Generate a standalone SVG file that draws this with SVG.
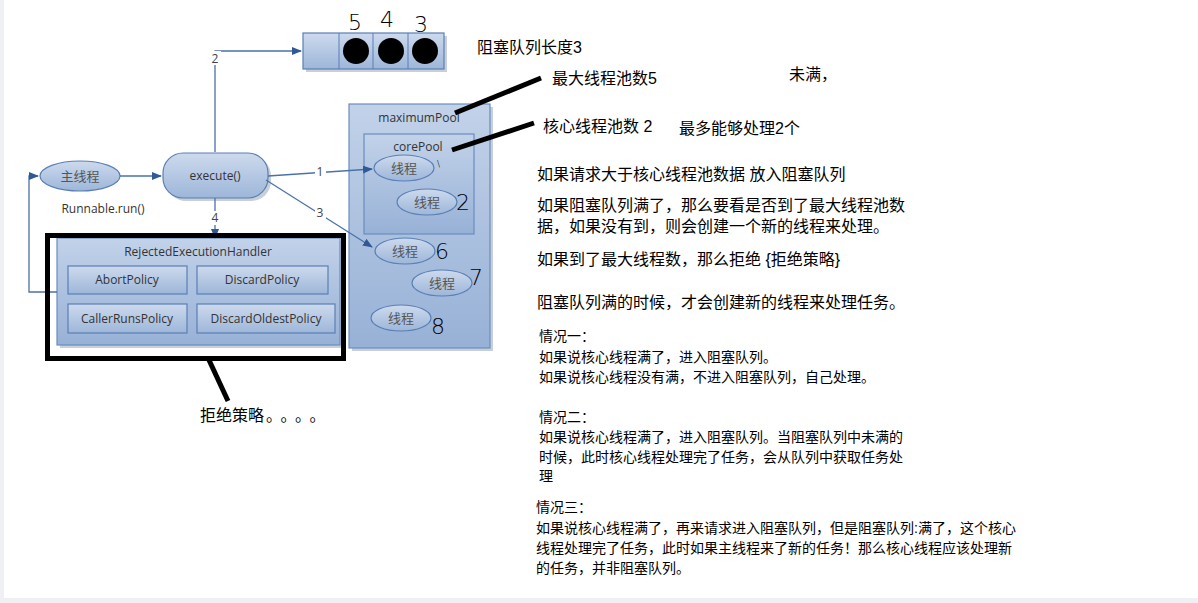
<svg xmlns="http://www.w3.org/2000/svg" width="1198" height="603" viewBox="0 0 1198 603">
<defs>
<linearGradient id="g" x1="0" y1="0" x2="0" y2="1"><stop offset="0" stop-color="#cddaed"/><stop offset="1" stop-color="#9db6d9"/></linearGradient>
<linearGradient id="g2" x1="0" y1="0" x2="0" y2="1"><stop offset="0" stop-color="#c2d2e9"/><stop offset="1" stop-color="#97b1d6"/></linearGradient>
<marker id="ah" markerWidth="10" markerHeight="8" refX="9" refY="4" orient="auto" markerUnits="userSpaceOnUse"><path d="M0,0 L10,4 L0,8 Z" fill="#2f5a95"/></marker>
<style>
.sh{fill:url(#g);stroke:#5a7fb5;stroke-width:1.2}
.bg{fill:url(#g2);stroke:#6a8cbe;stroke-width:1.2}
.t{font-family:"Open Sans","Liberation Sans",sans-serif;font-size:12px;fill:#333;text-anchor:middle}
.c{font-family:"Noto Sans CJK SC",sans-serif;font-size:13px;fill:#555;text-anchor:middle}
.cn{font-family:"Liberation Sans","Noto Sans CJK SC",sans-serif;font-size:16px;fill:#000}
.sm{font-family:"Liberation Sans","Noto Sans CJK SC",sans-serif;font-size:14px;fill:#000}
.hw{font-family:"DejaVu Sans",sans-serif;font-size:22px;fill:#000;font-weight:200}
.ln{fill:none;stroke:#4a72a8;stroke-width:1.3}
.lbl{font-family:"Open Sans","Liberation Sans",sans-serif;font-size:12px;fill:#444;text-anchor:middle}
.blk{fill:none;stroke:#000;stroke-width:5}
</style>
</defs>
<rect width="1198" height="603" fill="#eef0f4"/>
<rect x="4" y="0" width="1194" height="598" fill="#fff"/>

<g id="queue">
<rect x="306" y="36" width="141" height="36" fill="#c9cfd8"/>
<rect class="sh" x="303" y="33" width="141" height="36"/>
<line x1="339" y1="33" x2="339" y2="69" stroke="#5a7fb5"/>
<line x1="373" y1="33" x2="373" y2="69" stroke="#5a7fb5"/>
<line x1="408" y1="33" x2="408" y2="69" stroke="#5a7fb5"/>
<circle cx="356" cy="51" r="13" fill="#000"/>
<circle cx="391" cy="51" r="13" fill="#000"/>
<circle cx="425" cy="51" r="13" fill="#000"/>
<text class="hw" x="348" y="30">5</text>
<text class="hw" x="380" y="27">4</text>
<text class="hw" x="414" y="32">3</text>
</g>

<g id="main">
<ellipse class="sh" cx="80" cy="176" rx="40" ry="15"/>
<text class="c" x="80" y="181">主线程</text>
<text class="t" x="103" y="213">Runnable.run()</text>
</g>

<g id="execute">
<rect x="166" y="156" width="105" height="45" rx="20" fill="#c9cfd8"/>
<rect class="sh" x="163" y="153" width="105" height="45" rx="20"/>
<text class="t" x="215" y="180">execute()</text>
</g>

<g id="maximumPool">
<rect x="352" y="107" width="141" height="244" fill="#c9cfd8"/>
<rect class="bg" x="349" y="104" width="141" height="244"/>
<text class="t" x="419" y="122">maximumPool</text>
</g>
<g id="corePool">
<rect class="bg" x="364" y="134" width="110" height="100"/>
<text class="t" x="418" y="151">corePool</text>
</g>
<g id="t1"><ellipse class="sh" cx="404" cy="168" rx="30" ry="13"/><text class="c" x="404" y="173">线程</text><text class="hw" x="437" y="167" style="font-size:9px">\</text></g>
<g id="t2"><ellipse class="sh" cx="427" cy="202" rx="30" ry="13"/><text class="c" x="427" y="207">线程</text><text class="hw" x="456" y="210">2</text></g>
<g id="t6"><ellipse class="sh" cx="405" cy="251" rx="30" ry="13"/><text class="c" x="405" y="256">线程</text><text class="hw" x="435" y="259">6</text></g>
<g id="t7"><ellipse class="sh" cx="442" cy="283" rx="30" ry="13"/><text class="c" x="442" y="288">线程</text><text class="hw" x="469" y="285">7</text></g>
<g id="t8"><ellipse class="sh" cx="401" cy="318" rx="30" ry="13"/><text class="c" x="401" y="323">线程</text><text class="hw" x="431" y="334">8</text></g>

<g id="handler">
<rect x="60" y="241" width="283" height="107" fill="#c9cfd8"/>
<rect class="bg" x="57" y="238" width="283" height="107"/>
<text class="t" x="198" y="256">RejectedExecutionHandler</text>
<rect class="sh" x="68" y="266" width="119" height="28"/>
<text class="t" x="127" y="284">AbortPolicy</text>
<rect class="sh" x="197" y="266" width="131" height="28"/>
<text class="t" x="262" y="284">DiscardPolicy</text>
<rect class="sh" x="68" y="304" width="119" height="29"/>
<text class="t" x="127" y="323">CallerRunsPolicy</text>
<rect class="sh" x="197" y="304" width="138" height="29"/>
<text class="t" x="266" y="323">DiscardOldestPolicy</text>
</g>

<g id="connectors">
<path class="ln" d="M120,176 L161,176" marker-end="url(#ah)"/>
<path class="ln" d="M215,152 L215,51 L301,51" marker-end="url(#ah)"/>
<rect x="209" y="51" width="12" height="14" fill="#fff"/>
<text class="lbl" x="215" y="63">2</text>
<path class="ln" d="M268,176 L372,169" marker-end="url(#ah)"/>
<rect x="315" y="165" width="11" height="13" fill="#fff"/>
<text class="lbl" x="320" y="176">1</text>
<path class="ln" d="M266,180 L372,247" marker-end="url(#ah)"/>
<rect x="315" y="206" width="11" height="13" fill="#fff"/>
<text class="lbl" x="320" y="217">3</text>
<path class="ln" d="M215,198 L215,238" marker-end="url(#ah)"/>
<rect x="209" y="211" width="12" height="14" fill="#fff"/>
<text class="lbl" x="215" y="222">4</text>
<path class="ln" d="M57,292 L29,292 L29,176 L38,176" marker-end="url(#ah)"/>
</g>

<g id="annotations">
<rect class="blk" x="47.5" y="235.5" width="296" height="123"/>
<line class="blk" x1="209" y1="360" x2="228" y2="401"/>
<line class="blk" x1="455" y1="113" x2="541" y2="78"/>
<line class="blk" x1="452" y1="150" x2="534" y2="123"/>
<text class="cn" x="200" y="421">拒绝策略<tspan dx="2" style="letter-spacing:6.5px">。。。。</tspan></text>
<text class="cn" x="477" y="53">阻塞队列长度3</text>
<text class="cn" x="552" y="84">最大线程池数5</text>
<text class="cn" x="789" y="80">未满，</text>
<text class="cn" x="543" y="132">核心线程池数  2</text>
<text class="cn" x="679" y="134">最多能够处理2个</text>
<text class="cn" x="537" y="180">如果请求大于核心线程池数据 放入阻塞队列</text>
<text class="cn" x="537" y="211">如果阻塞队列满了，那么要看是否到了最大线程池数</text>
<text class="cn" x="537" y="232">据，如果没有到，则会创建一个新的线程来处理。</text>
<text class="cn" x="537" y="265">如果到了最大线程数，那么拒绝 {拒绝策略}</text>
<text class="cn" x="537" y="308">阻塞队列满的时候，才会创建新的线程来处理任务。</text>
<text class="sm" x="539" y="341">情况一：</text>
<text class="sm" x="539" y="362">如果说核心线程满了，进入阻塞队列。</text>
<text class="sm" x="539" y="382">如果说核心线程没有满，不进入阻塞队列，自己处理。</text>
<text class="sm" x="539" y="422">情况二：</text>
<text class="sm" x="539" y="442">如果说核心线程满了，进入阻塞队列。当阻塞队列中未满的</text>
<text class="sm" x="539" y="462">时候，此时核心线程处理完了任务，会从队列中获取任务处</text>
<text class="sm" x="539" y="481">理</text>
<text class="sm" x="536" y="512">情况三：</text>
<text class="sm" x="536" y="533">如果说核心线程满了，再来请求进入阻塞队列，但是阻塞队列:满了，这个核心</text>
<text class="sm" x="536" y="553">线程处理完了任务，此时如果主线程来了新的任务！那么核心线程应该处理新</text>
<text class="sm" x="536" y="573">的任务，并非阻塞队列。</text>
</g>
</svg>
